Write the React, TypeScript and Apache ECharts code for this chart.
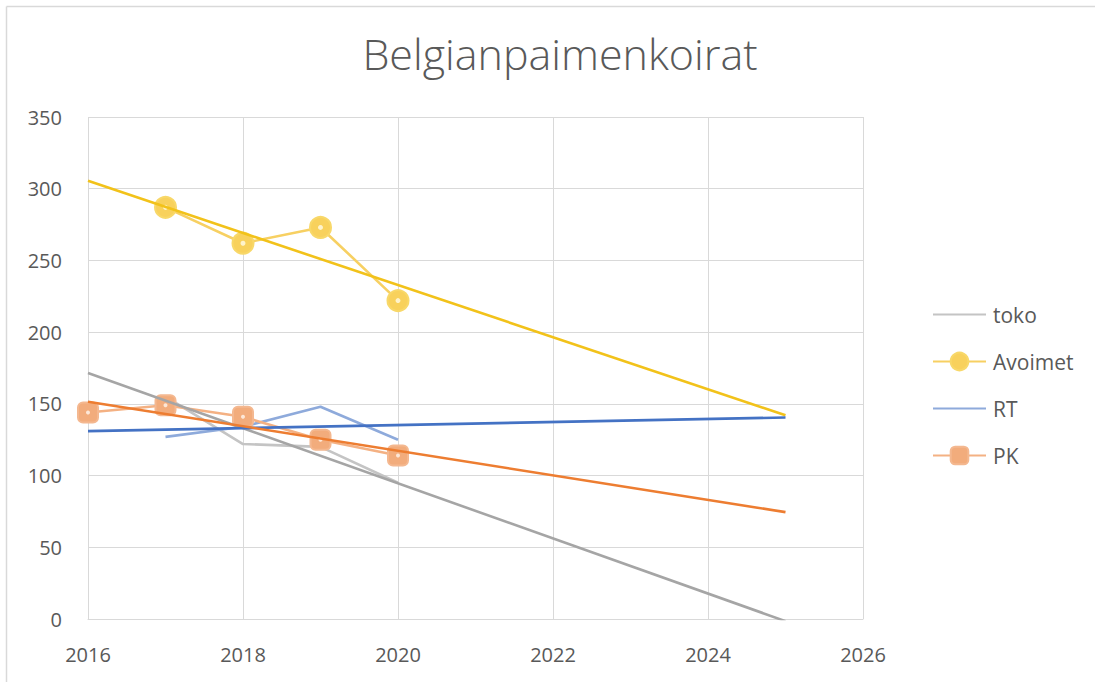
import React, { useEffect, useRef } from "react";
import * as echarts from "echarts";

// ---- data ----
const xTicks = [2016, 2018, 2020, 2022, 2024, 2026];
const tokoYears = [2017, 2018, 2019, 2020];
const tokoValues = [155, 122, 120, 95];
const avoimetYears = [2017, 2018, 2019, 2020];
const avoimetValues = [287, 262, 273, 222];
const rtYears = [2017, 2018, 2019, 2020];
const rtValues = [127, 134, 148, 125];
const pkYears = [2016, 2017, 2018, 2019, 2020];
const pkValues = [144, 149, 141, 125, 114];

// linear trend lines (endpoints)
const trendYears = [2016, 2025];
const tokoTrend = [171.5, -1.5];
const avoimetTrend = [305.5, 142];
const rtTrend = [131, 140.5];
const pkTrend = [151.5, 74.5];

const pairs = (xs: number[], ys: number[]) => xs.map((x, i) => [x, ys[i]]);

const FONT = "'Open Sans', 'Liberation Sans', sans-serif";
const TEXT = "#595959";
const GRID = "#d9d9d9";

export default function App() {
  const ref = useRef<HTMLDivElement>(null);
  useEffect(() => {
    if (!ref.current) return;
    const chart = echarts.init(ref.current, undefined, { renderer: "svg" });
    chart.setOption({
      animation: false,
      backgroundColor: "#ffffff",
      textStyle: { fontFamily: FONT },
      title: {
        text: "Belgianpaimenkoirat",
        left: 555,
        top: 27,
        textAlign: "center",
        textStyle: { fontFamily: FONT, fontSize: 43, fontWeight: 300, color: TEXT },
      },
      graphic: [
        { type: "line", shape: { x1: 6.5, y1: 6.5, x2: 1095, y2: 6.5 }, style: { stroke: GRID, lineWidth: 1.5 } },
        { type: "line", shape: { x1: 6.5, y1: 6.5, x2: 6.5, y2: 682 }, style: { stroke: GRID, lineWidth: 1.5 } },
      ],
      grid: { left: 88, top: 117, right: 232, bottom: 63, containLabel: false },
      legend: {
        data: [
          { name: "toko", itemStyle: { opacity: 0 } },
          { name: "Avoimet" },
          { name: "RT", itemStyle: { opacity: 0 } },
          { name: "PK" },
        ],
        orient: "vertical",
        left: 932,
        top: 304,
        padding: 0,
        itemWidth: 53,
        itemHeight: 22,
        itemGap: 26,
        textStyle: { fontFamily: FONT, fontSize: 21, color: TEXT, padding: [0, 0, 0, 2] },
      },
      xAxis: {
        type: "value",
        min: 2016,
        max: 2026,
        interval: 2,
        axisLine: { show: true, lineStyle: { color: GRID } },
        axisTick: { show: false },
        splitLine: { show: true, lineStyle: { color: GRID } },
        axisLabel: {
          color: TEXT,
          fontSize: 20,
          fontFamily: FONT,
          margin: 25,
          formatter: (v: number) => (xTicks.includes(v) ? String(v) : ""),
        },
      },
      yAxis: {
        type: "value",
        min: 0,
        max: 350,
        interval: 50,
        axisLine: { show: false },
        axisTick: { show: false },
        splitLine: { show: true, lineStyle: { color: GRID } },
        axisLabel: { color: TEXT, fontSize: 20, fontFamily: FONT, margin: 26 },
      },
      series: [
        {
          name: "toko",
          type: "line",
          data: pairs(tokoYears, tokoValues),
          symbol: "none",
          lineStyle: { color: "#c4c4c4", width: 2.6 },
          itemStyle: { color: "#c4c4c4" },
          z: 2,
        },
        {
          name: "Avoimet",
          type: "line",
          data: pairs(avoimetYears, avoimetValues),
          symbol: "circle",
          symbolSize: 21,
          lineStyle: { color: "#f7d062", width: 2.6 },
          itemStyle: { color: "#f8d15c", borderColor: "#f8d869", borderWidth: 2 },
          z: 2,
        },
        {
          name: "RT",
          type: "line",
          data: pairs(rtYears, rtValues),
          symbol: "none",
          lineStyle: { color: "#8eaadb", width: 2.6 },
          itemStyle: { color: "#8eaadb" },
          z: 2,
        },
        {
          name: "PK",
          type: "line",
          data: pairs(pkYears, pkValues),
          symbol: "roundRect",
          symbolSize: 20,
          lineStyle: { color: "#f4b183", width: 2.6 },
          itemStyle: { color: "#f2ac7c", borderColor: "#f4b890", borderWidth: 2 },
          z: 2,
        },
        {
          name: "Avoimet-center",
          type: "scatter",
          data: pairs(avoimetYears, avoimetValues),
          symbol: "circle",
          symbolSize: 5,
          itemStyle: { color: "#fffbe8" },
          silent: true,
          z: 3,
        },
        {
          name: "PK-center",
          type: "scatter",
          data: pairs(pkYears, pkValues),
          symbol: "circle",
          symbolSize: 4,
          itemStyle: { color: "#fff6ee" },
          silent: true,
          z: 3,
        },
        {
          name: "toko trend",
          type: "line",
          data: pairs(trendYears, tokoTrend),
          symbol: "none",
          lineStyle: { color: "#a5a5a5", width: 2.6 },
          clip: true,
          z: 4,
        },
        {
          name: "Avoimet trend",
          type: "line",
          data: pairs(trendYears, avoimetTrend),
          symbol: "none",
          lineStyle: { color: "#f2c21a", width: 2.6 },
          clip: true,
          z: 4,
        },
        {
          name: "RT trend",
          type: "line",
          data: pairs(trendYears, rtTrend),
          symbol: "none",
          lineStyle: { color: "#4472c4", width: 2.6 },
          clip: true,
          z: 4,
        },
        {
          name: "PK trend",
          type: "line",
          data: pairs(trendYears, pkTrend),
          symbol: "none",
          lineStyle: { color: "#ed7d31", width: 2.6 },
          clip: true,
          z: 4,
        },
      ],
    });
    return () => chart.dispose();
  }, []);
  return (
    <div
      ref={ref}
      style={{ position: "fixed", left: 0, top: 0, width: 1095, height: 682, background: "#fff" }}
    />
  );
}
